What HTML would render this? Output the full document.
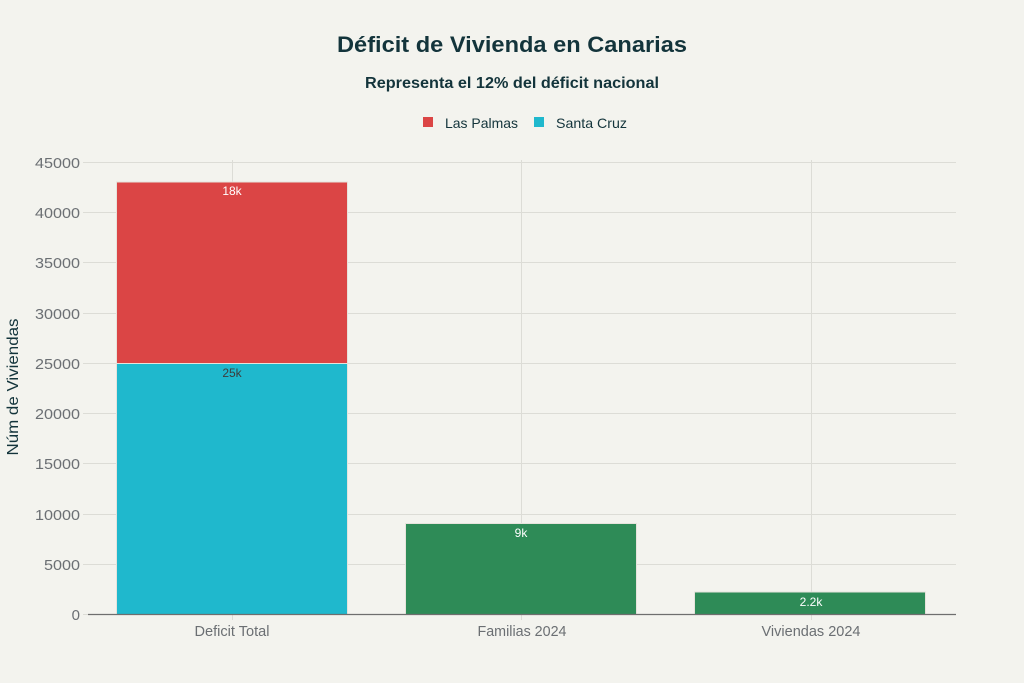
<!DOCTYPE html>
<html><head><meta charset="utf-8"><style>
html,body{margin:0;padding:0;background:#F3F3EE;}
svg{display:block;font-family:"Liberation Sans",Arial,sans-serif;}
</style></head><body>
<svg width="1024" height="683" viewBox="0 0 1024 683" xmlns="http://www.w3.org/2000/svg">
<rect width="1024" height="683" fill="#F3F3EE"/>
<!-- title -->
<text x="512" y="52" text-anchor="middle" font-size="22" font-weight="bold" fill="#13343B" textLength="350" lengthAdjust="spacingAndGlyphs">Déficit de Vivienda en Canarias</text>
<text x="512" y="88" text-anchor="middle" font-size="16" font-weight="bold" fill="#13343B" textLength="294" lengthAdjust="spacingAndGlyphs">Representa el 12% del déficit nacional</text>
<!-- legend -->
<rect x="423" y="117" width="10" height="10" fill="#DB4545"/>
<text x="445" y="128" font-size="14" fill="#13343B" textLength="73" lengthAdjust="spacingAndGlyphs">Las Palmas</text>
<rect x="534" y="117" width="10" height="10" fill="#1FB8CD"/>
<text x="556" y="128" font-size="14" fill="#13343B" textLength="71" lengthAdjust="spacingAndGlyphs">Santa Cruz</text>
<!-- grid -->
<g stroke="#DCDCD6" stroke-width="1">
<line x1="88" y1="162.5" x2="956" y2="162.5"/>
<line x1="88" y1="212.5" x2="956" y2="212.5"/>
<line x1="88" y1="262.5" x2="956" y2="262.5"/>
<line x1="88" y1="313.5" x2="956" y2="313.5"/>
<line x1="88" y1="363.5" x2="956" y2="363.5"/>
<line x1="88" y1="413.5" x2="956" y2="413.5"/>
<line x1="88" y1="463.5" x2="956" y2="463.5"/>
<line x1="88" y1="514.5" x2="956" y2="514.5"/>
<line x1="88" y1="564.5" x2="956" y2="564.5"/>
<line x1="232.5" y1="160" x2="232.5" y2="620"/>
<line x1="521.5" y1="160" x2="521.5" y2="620"/>
<line x1="811.5" y1="160" x2="811.5" y2="620"/>
<line x1="83" y1="162.5" x2="88" y2="162.5"/>
<line x1="83" y1="212.5" x2="88" y2="212.5"/>
<line x1="83" y1="262.5" x2="88" y2="262.5"/>
<line x1="83" y1="313.5" x2="88" y2="313.5"/>
<line x1="83" y1="363.5" x2="88" y2="363.5"/>
<line x1="83" y1="413.5" x2="88" y2="413.5"/>
<line x1="83" y1="463.5" x2="88" y2="463.5"/>
<line x1="83" y1="514.5" x2="88" y2="514.5"/>
<line x1="83" y1="564.5" x2="88" y2="564.5"/>
<line x1="83" y1="614.5" x2="88" y2="614.5"/>
</g>
<!-- bars -->
<g stroke="#E6E3DC" stroke-width="1">
<rect x="116.5" y="363.5" width="231" height="251" fill="#1FB8CD"/>
<rect x="116.5" y="182" width="231" height="181.5" fill="#DB4545"/>
<rect x="405.5" y="523.5" width="231" height="91" fill="#2E8B57"/>
<rect x="694.5" y="592" width="231" height="22.5" fill="#2E8B57"/>
</g>
<line x1="88" y1="614.5" x2="956" y2="614.5" stroke="#6E6E6E" stroke-width="1.2"/>
<!-- bar labels -->
<g font-size="12" text-anchor="middle">
<text x="232" y="195" fill="#FFFFFF">18k</text>
<text x="232" y="377" fill="#3D3D3D">25k</text>
<text x="521" y="537" fill="#FFFFFF">9k</text>
<text x="811" y="606" fill="#FFFFFF">2.2k</text>
</g>
<!-- y tick labels -->
<g font-size="15" fill="#6B6F73" text-anchor="end">
<text x="80" y="168" textLength="45" lengthAdjust="spacingAndGlyphs">45000</text>
<text x="80" y="218" textLength="45" lengthAdjust="spacingAndGlyphs">40000</text>
<text x="80" y="268" textLength="45" lengthAdjust="spacingAndGlyphs">35000</text>
<text x="80" y="319" textLength="45" lengthAdjust="spacingAndGlyphs">30000</text>
<text x="80" y="369" textLength="45" lengthAdjust="spacingAndGlyphs">25000</text>
<text x="80" y="419" textLength="45" lengthAdjust="spacingAndGlyphs">20000</text>
<text x="80" y="469" textLength="45" lengthAdjust="spacingAndGlyphs">15000</text>
<text x="80" y="520" textLength="45" lengthAdjust="spacingAndGlyphs">10000</text>
<text x="80" y="570" textLength="36" lengthAdjust="spacingAndGlyphs">5000</text>
<text x="80" y="620">0</text>
</g>
<!-- x tick labels -->
<g font-size="15" fill="#6B6F73" text-anchor="middle">
<text x="232" y="636" textLength="75" lengthAdjust="spacingAndGlyphs">Deficit Total</text>
<text x="522" y="636" textLength="89" lengthAdjust="spacingAndGlyphs">Familias 2024</text>
<text x="811" y="636" textLength="99" lengthAdjust="spacingAndGlyphs">Viviendas 2024</text>
</g>
<!-- y axis title -->
<text transform="translate(18,387) rotate(-90)" text-anchor="middle" font-size="16" fill="#13343B" textLength="137" lengthAdjust="spacingAndGlyphs">Núm de Viviendas</text>
</svg>
</body></html>
